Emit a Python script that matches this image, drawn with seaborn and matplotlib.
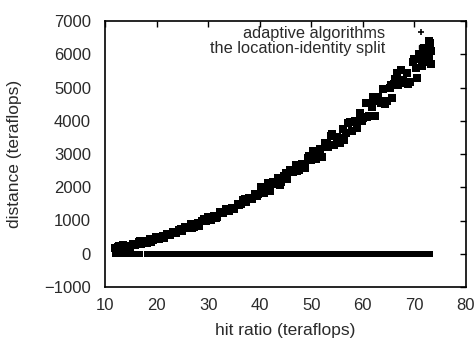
import matplotlib
matplotlib.use("Agg")
import matplotlib.pyplot as plt
import seaborn as sns
import pandas as pd
from matplotlib.lines import Line2D

# upper series: adaptive algorithms
adaptive_x = [12.0,12.3,12.6,13.0,13.4,13.8,14.3,14.8,15.4,15.9,16.5,17.0,17.6,18.1,18.7,19.3,19.8,20.4,21.0,21.5,
              22.1,22.7,23.2,23.8,24.4,24.9,25.5,26.1,26.6,27.2,27.8,28.3,28.9,29.5,30.0,30.6,31.2,31.7,32.3,32.9,
              33.4,34.0,34.6,35.1,35.7,36.3,36.8,37.4,38.0,38.5,39.1,39.7,40.2,40.8,41.4,41.9,42.5,43.1,43.6,44.2,
              44.8,45.3,45.9,46.5,47.0,47.6,48.2,48.7,49.3,49.9,50.4,51.0,51.6,52.1,52.7,53.3,53.8,54.4,55.0,55.5,
              56.1,56.7,57.2,57.8,58.4,58.9,59.5,60.1,60.6,61.2,61.8,62.3,62.9,63.5,64.0,64.6,65.2,65.7,66.3,66.9,
              67.4,68.0,68.6,69.1,69.7,70.3,70.8,71.4,72.0,72.5,73.0,
              12.15,12.8,13.6,14.55,15.65,16.75,17.85,19.0,20.1,21.25,22.4,23.5,24.65,25.8,26.9,28.05,29.2,30.3,
              31.45,32.6,33.7,34.85,36.0,37.1,38.25,39.4,40.5,41.65,42.8,43.9,45.05,46.2,47.3,48.45,49.6,50.7,
              51.85,53.0,54.1,55.25,56.4,57.5,58.65,59.8,60.9,62.05,63.2,64.3,65.45,66.6,67.7,68.85,70.0,71.1,
              72.25,72.8,
              72.8,73.2,71.8,70.5,73.3,62.0,66.0]
adaptive_y = [181,134,213,184,251,194,240,207,298,276,348,302,371,337,432,418,496,454,512,487,
              587,578,654,621,700,673,796,767,886,811,897,849,1000,977,1091,1029,1143,1092,1248,1229,
              1355,1289,1385,1345,1506,1491,1613,1561,1685,1641,1806,1797,1993,1839,1986,1884,2152,2091,2291,2157,
              2353,2240,2513,2457,2675,2531,2687,2592,2870,2819,3096,2841,3137,2922,3344,3217,3554,3278,3504,3317,
              3744,3622,3938,3692,3997,3790,4221,4084,4538,4132,4427,4149,4725,4532,4955,4589,4994,4684,5265,5077,
              5539,5143,5447,5176,5762,5578,6010,5652,6067,5765,6338,
              150,228,213,208,302,370,361,368,495,529,552,615,739,765,776,937,1057,1048,
              1061,1270,1322,1357,1458,1647,1683,1729,1946,2137,2092,2074,2424,2485,2498,2639,2949,2956,
              2917,3330,3603,3485,3420,3952,4006,3987,4125,4708,4593,4510,5066,5433,5236,5119,5845,5883,
              5828,5955,
              6400,6100,6200,5300,5700,4600,5100]

# lower series: the location-identity split (all at zero)
split_x = [12.0,12.5,13.0,13.5,14.2,14.7,15.2,15.7,16.2,16.8,18.1,18.7,
           19.6,20.2,20.8,21.4,22.0,22.6,23.2,23.8,24.4,25.0,25.6,26.2,26.8,27.4,28.0,28.6,29.2,29.8,
           30.4,31.0,31.6,32.2,32.8,33.4,34.0,34.6,35.2,35.8,36.4,37.0,37.6,38.2,38.8,39.4,40.0,
           41.0,41.6,42.2,42.8,43.4,44.0,44.6,45.4,46.0,46.6,47.4,48.0,48.6,49.2,49.8,
           50.4,51.0,51.6,52.2,52.8,53.4,54.0,54.6,55.2,55.8,56.4,57.0,57.6,58.2,58.8,59.4,60.0,
           60.6,61.2,61.8,62.4,63.0,63.6,64.2,64.8,65.4,66.0,66.6,67.2,67.8,68.4,69.0,69.6,70.2,
           70.8,71.4,72.0,72.6,73.1]
split_y = [0] * len(split_x)

legend_labels = ["adaptive algorithms", "the location-identity split"]
x_ticks = [10, 20, 30, 40, 50, 60, 70, 80]
y_ticks = [-1000, 0, 1000, 2000, 3000, 4000, 5000, 6000, 7000]

sns.set_style("white")
plt.rcParams["font.family"] = ["Liberation Sans", "DejaVu Sans"]
plt.rcParams["font.size"] = 12

fig = plt.figure(figsize=(4.77, 3.41), dpi=100)
ax = fig.add_axes([105 / 477, 54 / 341, 361 / 477, 266 / 341])

df_a = pd.DataFrame({"x": adaptive_x, "y": adaptive_y})
df_s = pd.DataFrame({"x": split_x, "y": split_y})
sns.scatterplot(data=df_s, x="x", y="y", ax=ax, marker="s", s=16, color="black",
                linewidth=0, legend=False)
sns.scatterplot(data=df_a, x="x", y="y", ax=ax, marker="s", s=30, color="black",
                linewidth=0, legend=False)

ax.set_xlim(10, 80)
ax.set_ylim(-1000, 7000)
ax.set_xticks(x_ticks)
ax.set_yticks(y_ticks)
txt = "#2a2a2a"
ax.tick_params(direction="in", length=4, width=1, top=True, right=True,
               labelsize=12, colors="black", labelcolor=txt)
ax.tick_params(axis="x", pad=8)
ax.tick_params(axis="y", pad=10)
for sp in ax.spines.values():
    sp.set_visible(True)
    sp.set_color("black")
    sp.set_linewidth(1.2)
ax.set_xlabel("hit ratio (teraflops)", fontsize=12.5, color=txt, labelpad=7)
ax.set_ylabel("distance (teraflops)", fontsize=12.5, color=txt, labelpad=16)

handles = [Line2D([], [], marker="+", linestyle="none", color="black", markersize=5, markeredgewidth=1.2),
           Line2D([], [], marker="s", linestyle="none", color="black", markersize=3)]
leg = ax.legend(handles, legend_labels, loc="upper right", bbox_to_anchor=(0.935, 1.03),
                frameon=False, markerfirst=False, fontsize=11.8, handlelength=1.0,
                handletextpad=1.7, labelspacing=0.0, borderpad=0.3)
for t in leg.get_texts():
    t.set_color(txt)

fig.savefig("out.png", dpi=100)
